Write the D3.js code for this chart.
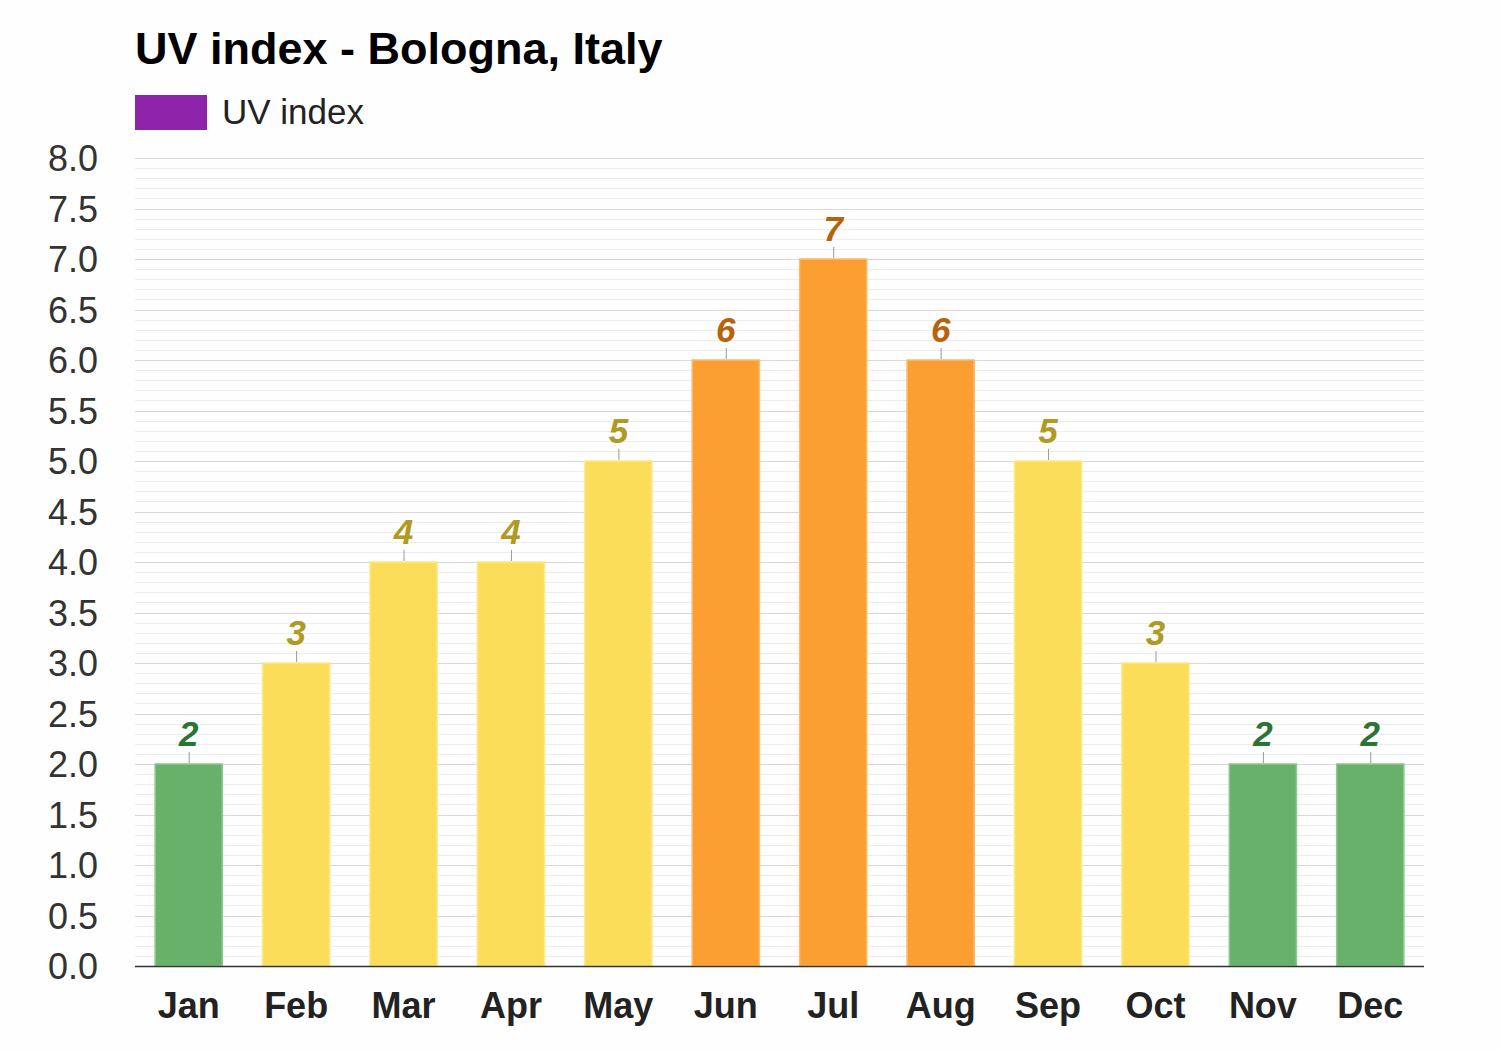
<!DOCTYPE html>
<html><head><meta charset="utf-8">
<script src="https://cdn.jsdelivr.net/npm/d3@7"></script>
<style>body{margin:0;background:#fdfefd;}svg{display:block;}</style>
</head><body>
<script>
const months = ["Jan","Feb","Mar","Apr","May","Jun","Jul","Aug","Sep","Oct","Nov","Dec"];
const uvValues = [2,3,4,4,5,6,7,6,5,3,2,2];
const yTicks = [0,0.5,1,1.5,2,2.5,3,3.5,4,4.5,5,5.5,6,6.5,7,7.5,8];
const title = "UV index - Bologna, Italy";
const legendLabel = "UV index";

function fillFor(v){ return v<=2 ? "#68b16b" : v<=5 ? "#fcdd5a" : "#fb9f33"; }
function strokeFor(v){ return v<=2 ? "#8cc98c" : v<=5 ? "#fde88a" : "#fcba6a"; }
function labelFor(v){ return v<=2 ? "#2b7434" : v<=5 ? "#b09a22" : "#b7630b"; }

const FONT="Liberation Sans, Arial, Helvetica, sans-serif";
const W=1500,H=1050, L=135, R=1424, T=158, B=966;
const svg=d3.select("body").append("svg").attr("width",W).attr("height",H);
svg.append("rect").attr("width",W).attr("height",H).attr("fill","#fdfefd");

const x=d3.scaleBand().domain(months).range([L,R]).paddingInner(0.375).paddingOuter(0.1875);
const y=d3.scaleLinear().domain([0,8]).range([B,T]);

// minor grid
const minor=d3.range(0,8.0001,0.1).filter(v=>Math.abs(v*2-Math.round(v*2))>1e-6);
svg.append("g").selectAll("line").data(minor).join("line")
 .attr("x1",L).attr("x2",R).attr("y1",d=>Math.round(y(d))+0.5).attr("y2",d=>Math.round(y(d))+0.5)
 .attr("stroke","#eeeeee").attr("stroke-width",1);
svg.append("g").selectAll("line").data(yTicks.slice(1)).join("line")
 .attr("x1",L).attr("x2",R).attr("y1",d=>Math.round(y(d))+0.5).attr("y2",d=>Math.round(y(d))+0.5)
 .attr("stroke","#d8d8d8").attr("stroke-width",1);

// y axis labels
const yAxis=d3.axisLeft(y).tickValues(yTicks).tickFormat(d3.format(".1f")).tickSize(0).tickPadding(L-98);
const ga=svg.append("g").attr("transform",`translate(${L},0)`).call(yAxis);
ga.select(".domain").remove();
ga.selectAll("text").attr("font-family",FONT).attr("font-size",36).attr("fill","#333").attr("dy","0.36em");

// bars
svg.append("g").selectAll("rect").data(months).join("rect")
 .attr("x",(d)=>x(d)).attr("width",x.bandwidth())
 .attr("y",(d,i)=>y(uvValues[i])).attr("height",(d,i)=>B-y(uvValues[i]))
 .attr("fill",(d,i)=>fillFor(uvValues[i])).attr("stroke",(d,i)=>strokeFor(uvValues[i])).attr("stroke-width",1.5);

// connector ticks
svg.append("g").selectAll("line").data(months).join("line")
 .attr("x1",d=>x(d)+x.bandwidth()/2+0.5).attr("x2",d=>x(d)+x.bandwidth()/2+0.5)
 .attr("y1",(d,i)=>y(uvValues[i])-1).attr("y2",(d,i)=>y(uvValues[i])-12)
 .attr("stroke","#999").attr("stroke-width",1);

// value labels
svg.append("g").selectAll("text").data(months).join("text")
 .attr("x",d=>x(d)+x.bandwidth()/2).attr("y",(d,i)=>y(uvValues[i])-18)
 .attr("text-anchor","middle").attr("font-family",FONT)
 .attr("font-size",35).attr("font-weight","bold").attr("font-style","italic")
 .attr("fill",(d,i)=>labelFor(uvValues[i])).text((d,i)=>uvValues[i]);

// x axis line
svg.append("line").attr("x1",L).attr("x2",R).attr("y1",B+0.5).attr("y2",B+0.5).attr("stroke","#333").attr("stroke-width",1.5);
const xAxis=d3.axisBottom(x).tickSize(0).tickPadding(0);
const gx=svg.append("g").attr("transform",`translate(0,${B})`).call(xAxis);
gx.select(".domain").remove();
gx.selectAll("text").attr("font-family",FONT).attr("font-size",36).attr("font-weight","bold").attr("fill","#222").attr("y",52).attr("dy",0);

// title
svg.append("text").attr("x",135).attr("y",64).attr("font-family",FONT).attr("font-size",45).attr("font-weight","bold").attr("fill","#000").text(title);
// legend
svg.append("rect").attr("x",135).attr("y",95).attr("width",72).attr("height",35).attr("fill","#8e24aa");
svg.append("text").attr("x",222).attr("y",124).attr("font-family",FONT).attr("font-size",35).attr("fill","#222").text(legendLabel);
</script>
</body></html>
